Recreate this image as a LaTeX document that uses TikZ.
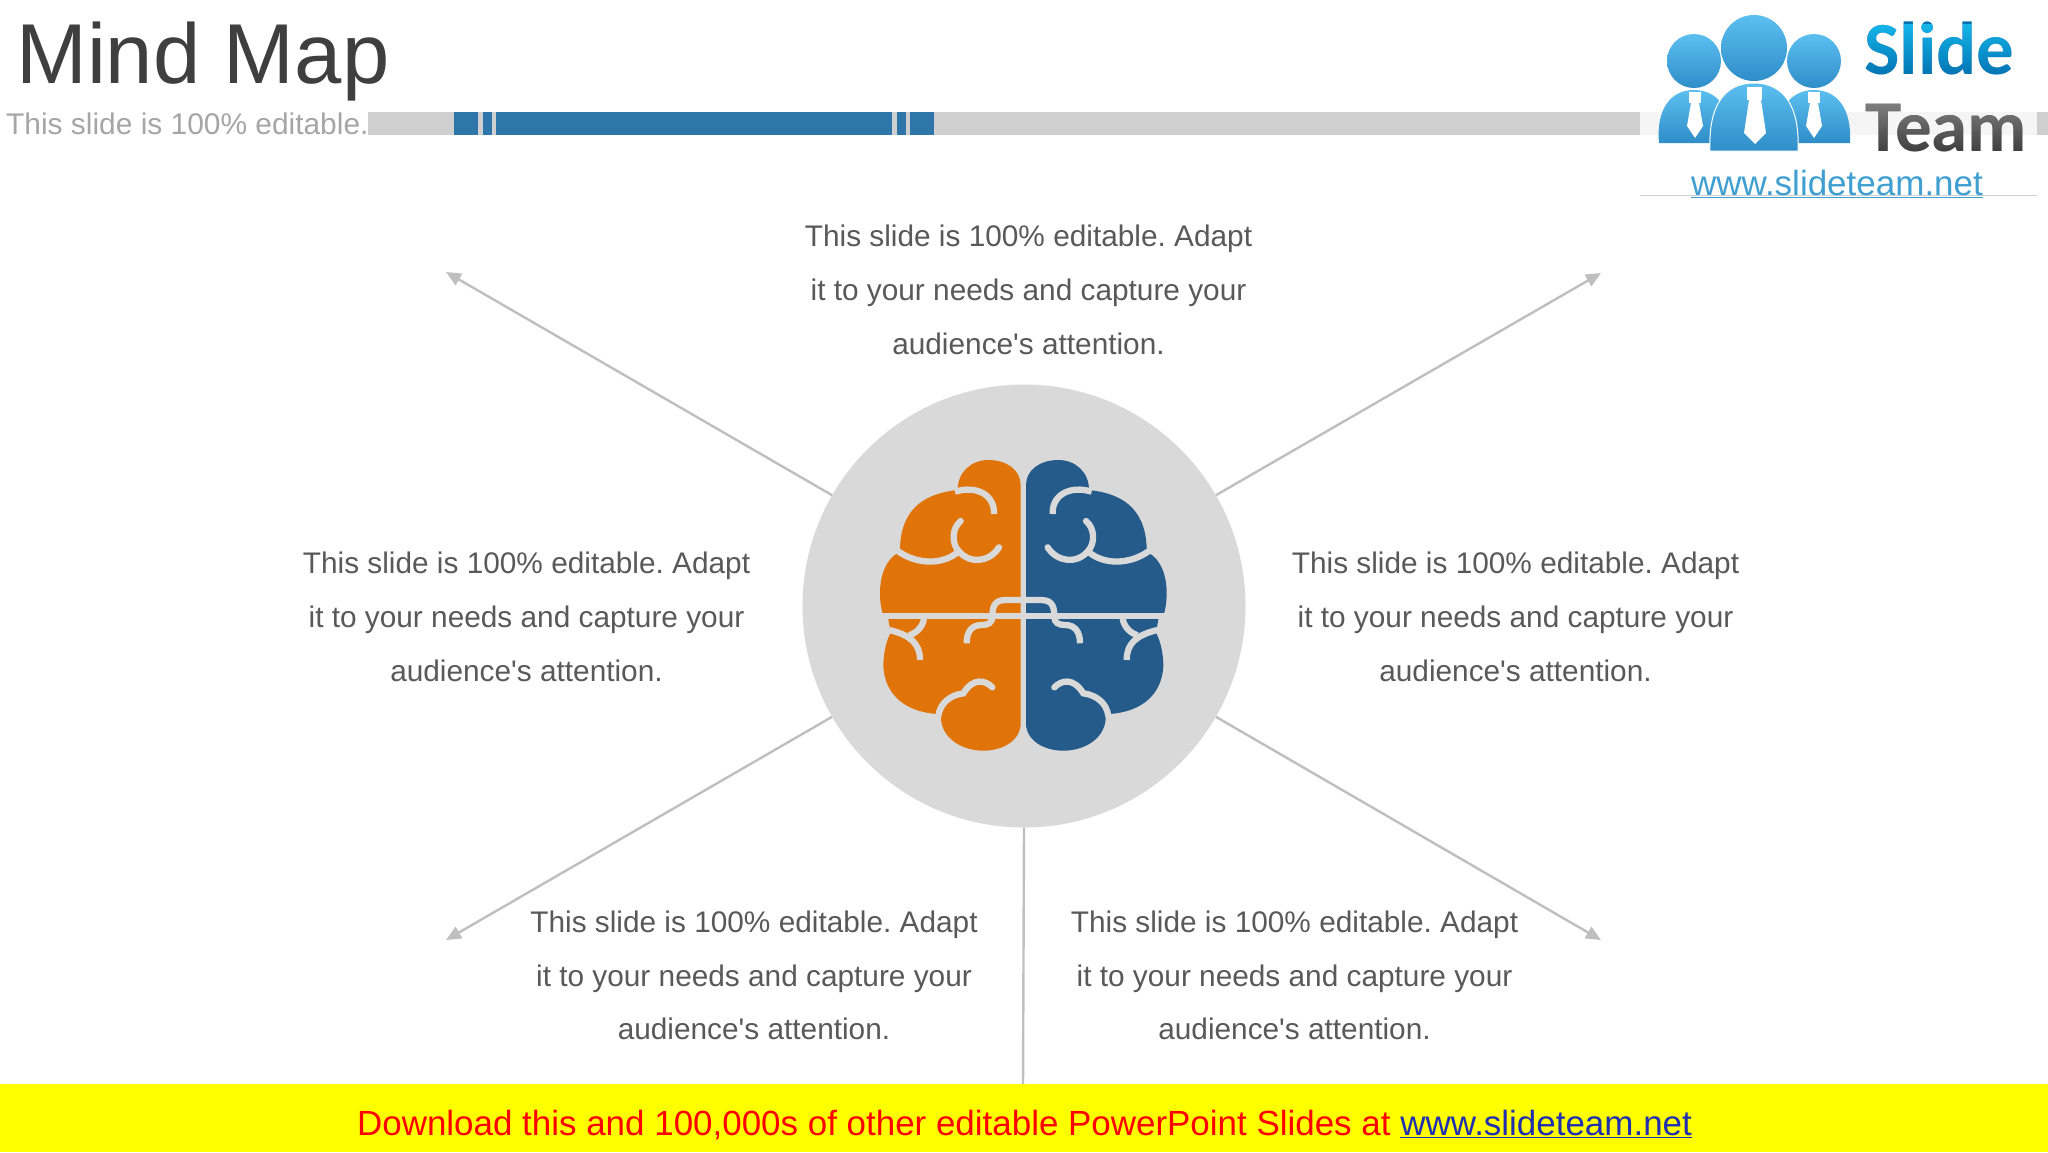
\documentclass[tikz,border=0pt]{standalone}
\usepackage{fontspec}
\setmainfont[Ligatures=TeXOff]{Liberation Sans}
\newfontfamily\logofont{Carlito}
\usetikzlibrary{arrows.meta,calc}
\definecolor{hubgray}{HTML}{D9D9D9}
\definecolor{bargray}{HTML}{CFCFCF}
\definecolor{barblue}{HTML}{2E75A9}
\definecolor{bodytext}{HTML}{595959}
\definecolor{titletext}{HTML}{3F3F3F}
\definecolor{subtext}{HTML}{A6A6A6}
\definecolor{linegray}{HTML}{BFBFBF}
\definecolor{brainorange}{HTML}{E07408}
\definecolor{brainblue}{HTML}{245B8A}
\definecolor{logourl}{HTML}{3F9FD0}
\definecolor{slidedark}{HTML}{0070B0}
\definecolor{slidelight}{HTML}{14B5E8}
\definecolor{teamdark}{HTML}{3A3A3A}
\definecolor{teamlight}{HTML}{808080}
\definecolor{linkblue}{HTML}{1F2FB0}
\definecolor{personlight}{HTML}{5CBFF0}
\definecolor{persondark}{HTML}{2F8DC8}
\definecolor{bannerbg}{HTML}{FFFF00}
\definecolor{bannertext}{HTML}{FF0000}
\tikzset{
  blurb/.style={font=\frenchspacing\fontsize{29.8}{53.7}\selectfont,text=bodytext,align=center,inner sep=0pt},
  conn/.style={draw=linegray,line width=2.4pt},
  tip/.style={-{Triangle[length=15pt,width=13pt]}},
  gyrus/.style={draw=hubgray,line width=6.3pt,line cap=butt,fill=none},
  gyrusr/.style={gyrus,line cap=round},
  person/.style={top color=personlight,bottom color=persondark,draw=none},
  tie/.style={fill=white,draw=none},
  barseg/.style={fill=barblue,draw=none}
}
\newcommand{\brainhalf}[1]{%
  \fill[#1] (482,135) .. controls (482,90) and (440,60) .. (385,60)
    .. controls (335,60) and (293,95) .. (293,150)
    .. controls (200,160) and (125,200) .. (120,322) -- (115,338)
    .. controls (75,360) and (60,410) .. (60,460)
    .. controls (60,490) and (65,510) .. (68,522) -- (85,538) -- (92,578)
    .. controls (75,610) and (70,650) .. (70,680)
    .. controls (75,760) and (130,815) .. (232,822)
    -- (243,832) .. controls (243,890) and (300,932) .. (370,932)
    .. controls (430,932) and (482,900) .. (482,850) -- cycle;
  \draw[gyrus] (285,155) .. controls (350,135) and (405,165) .. (402,222);
  \draw[gyrus] (112,332) .. controls (170,375) and (250,375) .. (295,335);
  \draw[gyrusr] (302,243) .. controls (275,265) and (275,310) .. (295,332) .. controls (330,375) and (390,365) .. (417,322);
  \draw[gyrus] (60,529) -- (490,529);
  \draw[gyrus] (490,480) -- (440,480) .. controls (410,480) and (397,490) .. (397,530)
    .. controls (397,548) and (385,555) .. (365,555) .. controls (335,555) and (320,575) .. (320,610);
  \draw[gyrus] (192,536) .. controls (187,565) and (165,580) .. (148,586);
  \draw[gyrus] (88,570) .. controls (150,585) and (180,610) .. (180,660);
  \draw[gyrusr] (397,742) .. controls (375,720) and (340,712) .. (310,760)
    .. controls (270,765) and (240,790) .. (235,828);
}
\begin{document}
\begin{tikzpicture}[x=1pt,y=-1pt]
\useasboundingbox (0,0) rectangle (2048,1152);
\fill[white] (0,0) rectangle (2048,1152);
% header
\node[anchor=base west,inner sep=0pt,font=\fontsize{85}{90}\selectfont,text=titletext] (title) at (16,83) {Mind Map};
\node[anchor=base west,inner sep=0pt,font=\frenchspacing\fontsize{29.9}{32}\selectfont,text=subtext] (subtitle) at (6,134) {This slide is 100\% editable.};
\fill[bargray] (368,112) rectangle (2048,135);
\fill[barseg] (454,112) rectangle (478,135);
\fill[barseg] (482.5,112) rectangle (492,135);
\fill[barseg] (496,112) rectangle (892,135);
\fill[barseg] (896.5,112) rectangle (906,135);
\fill[barseg] (910,112) rectangle (934,135);
% logo
\fill[white] (1640,0) rectangle (2037,196);
\fill[black!4] (1640,112) rectangle (2037,135);
\draw[black!18,line width=1pt] (1640,195.5) -- (2037,195.5);
\shade[person] (1659,143) .. controls (1656,110) and (1670,90) .. (1694,90) .. controls (1718,90) and (1732,110) .. (1735,143) -- cycle;
\shade[person] (1773,143) .. controls (1776,110) and (1790,90) .. (1814,90) .. controls (1838,90) and (1852,110) .. (1850,143) -- cycle;
\shade[person] (1694,61) circle[radius=27];
\shade[person] (1814,61) circle[radius=27];
\shade[person] (1754,48) circle[radius=33];
\shade[person,draw=white,line width=1pt] (1710,151) .. controls (1708,105) and (1725,83) .. (1754,83) .. controls (1783,83) and (1800,105) .. (1798,151) -- cycle;
\fill[tie] (1689,92) rectangle (1701,103);
\fill[tie] (1691,103) -- (1687,126) -- (1695,138) -- (1703,126) -- (1699,103) -- cycle;
\fill[tie] (1808,92) rectangle (1820,103);
\fill[tie] (1810,103) -- (1806,126) -- (1814,138) -- (1822,126) -- (1818,103) -- cycle;
\fill[tie] (1747,87) rectangle (1762,100);
\fill[tie] (1749,100) -- (1744,133) -- (1755,144) -- (1766,133) -- (1761,100) -- cycle;
\node[anchor=base west,inner sep=0pt,font=\logofont\bfseries\fontsize{75}{75}\selectfont,text=slidedark] (logoslide) at (1864,74) {Slide};
\node[anchor=base west,inner sep=0pt,font=\logofont\bfseries\fontsize{73}{73}\selectfont,text=teamdark] (logoteam) at (1865,151) {Team};
\begin{scope}[blend mode=lighten]
\shade[top color=slidelight,bottom color=slidedark] (1860,24) rectangle (2030,78);
\shade[top color=teamlight,bottom color=teamdark] (1860,102) rectangle (2030,155);
\end{scope}
\node[anchor=base,inner sep=0pt,font=\fontsize{35}{36}\selectfont,text=logourl] (logourlnode) at (1837,195) {\underline{www.slideteam.net}};
% hub
\node[circle,fill=hubgray,minimum size=443pt,inner sep=0pt] (hub) at (1024,606) {};
\begin{scope}[shift={(860,440)},xscale=1/3,yscale=1/3]
\brainhalf{brainorange}
\end{scope}
\begin{scope}[shift={(1186.67,440)},xscale=-1/3,yscale=1/3]
\brainhalf{brainblue}
\end{scope}
% connectors
\coordinate (endTL) at (446,272);
\coordinate (endTR) at (1601,273);
\coordinate (endBL) at (446,940);
\coordinate (endBR) at (1601,940);
\coordinate (endS) at (1023,1086);
\draw[conn,tip] (hub.150) -- (endTL);
\draw[conn,tip] (hub.30) -- (endTR);
\draw[conn,tip] (hub.210) -- (endBL);
\draw[conn,tip] (hub.330) -- (endBR);
\draw[conn] (hub.270) -- (endS);
% texts
\node[blurb] (tTop) at (1028.5,290) {This slide is 100\% editable. Adapt\\it to your needs and capture your\\audience's attention.};
\node[blurb] (tLeft) at (526.5,617) {This slide is 100\% editable. Adapt\\it to your needs and capture your\\audience's attention.};
\node[blurb] (tRight) at (1515.5,617) {This slide is 100\% editable. Adapt\\it to your needs and capture your\\audience's attention.};
\node[blurb] (tBL) at (754,975.5) {This slide is 100\% editable. Adapt\\it to your needs and capture your\\audience's attention.};
\node[blurb] (tBR) at (1294.5,975.5) {This slide is 100\% editable. Adapt\\it to your needs and capture your\\audience's attention.};
% footer
\fill[bannerbg] (0,1084) rectangle (2048,1152);
\node[anchor=base,inner sep=0pt,font=\frenchspacing\fontsize{34.95}{36}\selectfont,text=bannertext] (footer) at (1024.5,1135) {Download this and 100,000s of other editable PowerPoint Slides at \textcolor{linkblue}{\underline{www.slideteam.net}}};
\end{tikzpicture}
\end{document}
